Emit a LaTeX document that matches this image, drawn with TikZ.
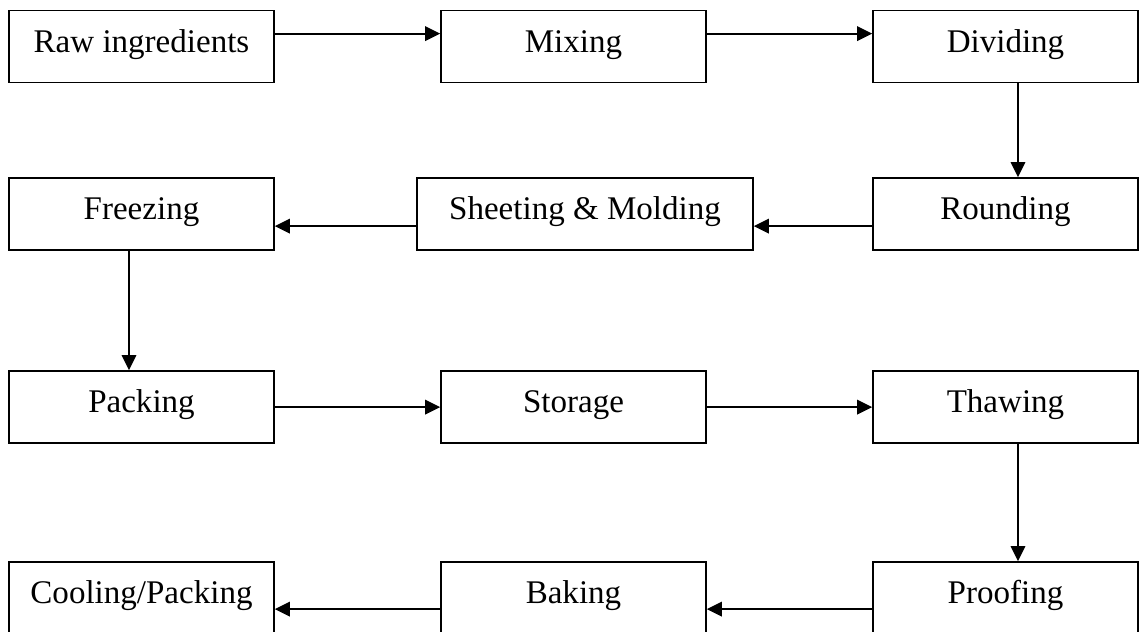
\documentclass[tikz,border=0pt]{standalone}
\usepackage{fontspec}
\setmainfont{Liberation Serif}
\usetikzlibrary{arrows.meta,calc}
\tikzset{
  stepbox/.style={draw, line width=1pt, inner sep=0pt, minimum width=5.3cm,
    text height=0.83cm, text depth=0.61cm, font=\fontsize{18.8}{22}\selectfont},
  widebox/.style={stepbox, minimum width=6.72cm},
  flowarrow/.style={line width=1pt, -{Triangle[length=0.3cm, width=0.29cm]}}
}

\begin{document}
\begin{tikzpicture}
    \useasboundingbox (0,0) rectangle (22.82,-12.64);
    % ---------------------
    \draw
    (2.83, -0.93) node[stepbox] (raw) {Raw ingredients}
    (11.47, -0.93) node[stepbox] (mix) {Mixing}
    (20.11, -0.93) node[stepbox] (div) {Dividing};
    % ---------------------
    \draw
    (2.83, -4.28) node[stepbox] (frz) {Freezing}
    (11.70, -4.28) node[widebox] (shm) {Sheeting \& Molding}
    (20.11, -4.28) node[stepbox] (rnd) {Rounding};
    % ---------------------
    \draw
    (2.83, -8.14) node[stepbox] (pck) {Packing}
    (11.47, -8.14) node[stepbox] (sto) {Storage}
    (20.11, -8.14) node[stepbox] (thw) {Thawing};
    % ---------------------
    \draw
    (2.83, -11.96) node[stepbox] (cool) {Cooling/Packing}
    (11.47, -11.96) node[stepbox] (bak) {Baking}
    (20.11, -11.96) node[stepbox] (prf) {Proofing};
    % ---------------------
    \draw
    ([yshift=-0.48cm]raw.north east) edge[flowarrow] ([yshift=-0.48cm]mix.north west)
    ([yshift=-0.48cm]mix.north east) edge[flowarrow] ([yshift=-0.48cm]div.north west)
    ([xshift=0.25cm]div.south) edge[flowarrow] ([xshift=0.25cm]rnd.north)
    ([yshift=-0.98cm]rnd.north west) edge[flowarrow] ([yshift=-0.98cm]shm.north east)
    ([yshift=-0.98cm]shm.north west) edge[flowarrow] ([yshift=-0.98cm]frz.north east)
    ([xshift=-0.25cm]frz.south) edge[flowarrow] ([xshift=-0.25cm]pck.north)
    ([yshift=-0.74cm]pck.north east) edge[flowarrow] ([yshift=-0.74cm]sto.north west)
    ([yshift=-0.74cm]sto.north east) edge[flowarrow] ([yshift=-0.74cm]thw.north west)
    ([xshift=0.25cm]thw.south) edge[flowarrow] ([xshift=0.25cm]prf.north)
    ([yshift=-0.96cm]prf.north west) edge[flowarrow] ([yshift=-0.96cm]bak.north east)
    ([yshift=-0.96cm]bak.north west) edge[flowarrow] ([yshift=-0.96cm]cool.north east);
  \end{tikzpicture}
\end{document}
